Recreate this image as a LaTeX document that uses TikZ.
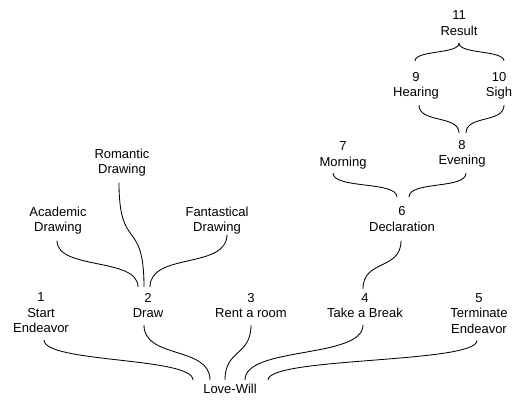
\documentclass[tikz,border=0pt]{standalone}
\usepackage{fontspec}
\setmainfont{Liberation Sans}
\usetikzlibrary{calc}
% link from node anchor #1 shifted (#2,#3) down to node anchor #4 shifted (#5,#6), control distance #7
\newcommand\linkdown[7]{\draw[conn] ($(#1)+(#2,#3)$) .. controls ($(#1)+(#2,#3)+(0,-#7)$) and ($(#4)+(#5,#6)+(0,#7)$) .. ($(#4)+(#5,#6)$);}
\newcommand\linkup[7]{\draw[conn] ($(#1)+(#2,#3)$) .. controls ($(#1)+(#2,#3)+(0,#7)$) and ($(#4)+(#5,#6)+(0,-#7)$) .. ($(#4)+(#5,#6)$);}
\begin{document}
\begin{tikzpicture}[x=1pt,y=1pt,
  lbl/.style={anchor=north, align=center, inner sep=0pt, font=\fontsize{13}{15.5}\selectfont},
  conn/.style={line width=0.85pt, black}]
\useasboundingbox (0,0) rectangle (513,-400);
% bottom row
\node[lbl] (n1) at (41,-292.5) {1\\Start\\Endeavor};
\node[lbl] (n2) at (148,-293) {2\\Draw};
\node[lbl] (n3) at (251,-293) {3\\Rent a room};
\node[lbl] (n4) at (365,-293) {4\\Take a Break};
\node[lbl] (n5) at (479,-293) {5\\Terminate\\Endeavor};
\node[lbl] (lw) at (230,-383.5) {Love-Will};
% drawing branch
\node[lbl] (acad) at (58,-206.5) {Academic\\Drawing};
\node[lbl] (rom) at (122,-148.5) {Romantic\\Drawing};
\node[lbl] (fant) at (217,-206.5) {Fantastical\\Drawing};
% declaration branch
\node[lbl] (n6) at (402,-206.5) {6\\Declaration};
\node[lbl] (n7) at (343,-141.5) {7\\Morning};
\node[lbl] (n8) at (462,-140) {8\\Evening};
\node[lbl] (n9) at (416,-72) {9\\Hearing};
\node[lbl] (n10) at (499,-72) {10\\Sigh};
\node[lbl] (n11) at (459,-10.5) {11\\Result};
% connectors to Love-Will
\linkdown{n1.south}{3}{-7}{lw.north}{-37}{3.5}{23}
\linkdown{n2.south}{-4}{-7}{lw.north}{-20}{3.5}{34}
\linkdown{n3.south}{0}{-7}{lw.north}{-5}{3.5}{31}
\linkdown{n4.south}{-2}{-7}{lw.north}{15}{3.5}{34}
\linkdown{n5.south}{-2}{-7}{lw.north}{38}{3.5}{23}
% connectors to Draw
\linkdown{acad.south}{-1}{-6}{n2.north}{-10}{6}{30}
\linkdown{rom.south}{-3}{-6}{n2.north}{-4}{6}{70}
\linkdown{fant.south}{10}{0}{n2.north}{2}{6}{35}
% declaration to take a break
\linkdown{n6.south}{-1}{-9}{n4.north}{-2}{4}{30}
% morning / evening to declaration
\linkdown{n7.south}{-10}{-4}{n6.north}{-5}{9.5}{16}
\linkdown{n8.south}{4}{-5.5}{n6.north}{7}{9.5}{16}
% hearing / sigh to evening
\linkdown{n9.south}{3}{-5.5}{n8.north}{-3}{7}{18}
\linkdown{n10.south}{5}{-5.5}{n8.north}{4}{7}{18}
% result brace
\linkup{n9.north}{-1}{11}{n11.south}{0}{-7.7}{11}
\linkup{n10.north}{5}{11}{n11.south}{0}{-7.7}{11}
\end{tikzpicture}
\end{document}
